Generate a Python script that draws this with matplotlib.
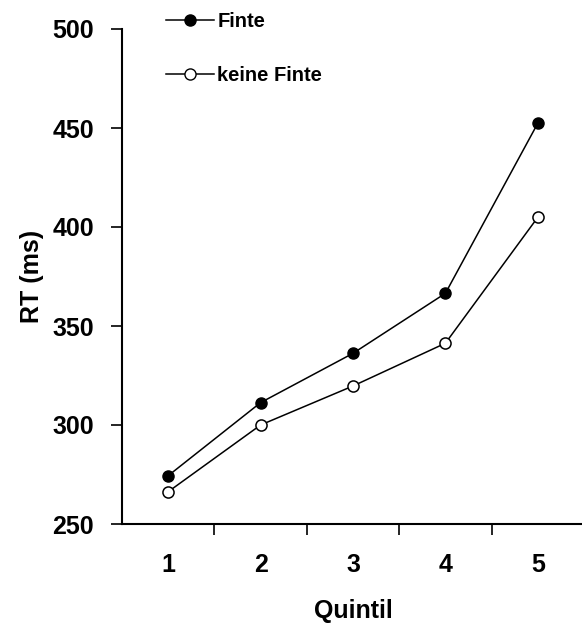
import matplotlib
matplotlib.use("Agg")
import matplotlib.pyplot as plt
from matplotlib.lines import Line2D

plt.rcParams['font.family'] = ['Liberation Sans', 'DejaVu Sans']
plt.rcParams['font.weight'] = 'bold'

quintile = [1, 2, 3, 4, 5]
finte = [274.4, 311.3, 336.2, 366.5, 452.4]
keine_finte = [266.3, 300.0, 319.7, 341.3, 404.9]
yticks = [250, 300, 350, 400, 450, 500]

fig = plt.figure(figsize=(5.82, 6.23), dpi=100)
ax = fig.add_axes([122 / 582, 99 / 623, 462 / 582, 495 / 623])

ax.plot(quintile, finte, '-o', color='black', lw=1.1, ms=8,
        mfc='black', mec='black', label='Finte')
ax.plot(quintile, keine_finte, '-o', color='black', lw=1.1, ms=8,
        mfc='white', mec='black', mew=1.1, label='keine Finte')

ax.set_xlim(0.5, 5.5)
ax.set_ylim(250, 500)
ax.set_yticks(yticks)
ax.set_xticks([1.5, 2.5, 3.5, 4.5])
ax.set_xticklabels([])
ax.set_xticks(quintile, minor=True)
ax.set_xticklabels([str(q) for q in quintile], minor=True, fontsize=18, fontweight='bold')
ax.tick_params(axis='x', which='minor', length=0, pad=21)
ax.tick_params(axis='x', which='major', length=8, width=1.2, direction='out')
ax.tick_params(axis='y', length=8, width=1.2, direction='out', labelsize=18, pad=12)
for lbl in ax.get_yticklabels():
    lbl.set_fontweight('bold')

for s in ['top', 'right']:
    ax.spines[s].set_visible(False)
for s in ['left', 'bottom']:
    ax.spines[s].set_linewidth(1.5)
ax.spines['left'].set_bounds(250, 500)

ax.set_xlabel('Quintil', fontsize=18, fontweight='bold', labelpad=16)
ax.set_ylabel('RT (ms)', fontsize=18, fontweight='bold', labelpad=6)

handles = [
    Line2D([], [], color='black', lw=1.1, marker='o', ms=8, mfc='black', mec='black'),
    Line2D([], [], color='black', lw=1.1, marker='o', ms=8, mfc='white', mec='black'),
]
fig.legend(handles, ['Finte', 'keine Finte'], loc='upper left',
           bbox_to_anchor=(148 / 582, 1 + 6 / 623), frameon=False,
           handlelength=2.4, handletextpad=0.15, labelspacing=1.75,
           prop={'size': 14.5, 'weight': 'bold'})

fig.savefig('out.png', dpi=100)
